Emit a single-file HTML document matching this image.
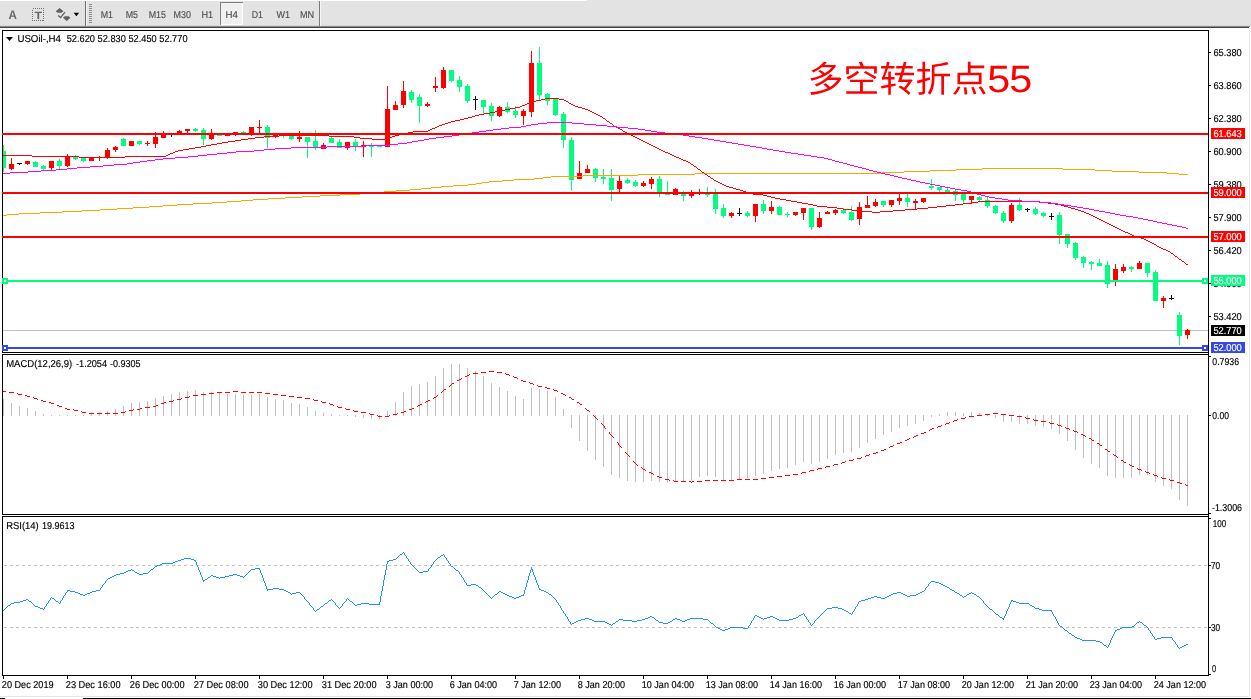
<!DOCTYPE html>
<html lang="zh"><head><meta charset="utf-8"><title>USOil H4</title>
<style>html,body{margin:0;padding:0;background:#fff;overflow:hidden}svg{display:block}text{font-family:"Liberation Sans","Noto Sans CJK SC",sans-serif;white-space:pre;text-rendering:geometricPrecision}</style>
</head><body>
<svg width="1251" height="699" viewBox="0 0 1251 699" shape-rendering="crispEdges">
<rect x="0" y="0" width="1251" height="699" fill="#fff"/>
<g id="toolbar">
<rect x="0" y="0" width="1251" height="26" fill="#e3e3e3"/>
<rect x="0" y="0" width="587" height="1" fill="#ffffff"/>
<rect x="0" y="25" width="1251" height="1" fill="#d8d8d8"/>
<rect x="0" y="26" width="1250" height="1" fill="#8c8c8c"/>
<rect x="0" y="27" width="1249" height="1" fill="#404040"/>
<text x="8.4" y="19" font-size="12.5" fill="#686868" textLength="8.4" lengthAdjust="spacingAndGlyphs" font-weight="bold">A</text>
<rect x="32.5" y="8.5" width="11" height="12" fill="none" stroke="#707070" stroke-width="1" stroke-dasharray="1 1"/>
<text x="34.4" y="18.8" font-size="10.6" fill="#686868" textLength="7.6" lengthAdjust="spacingAndGlyphs" font-weight="bold">T</text>
<g shape-rendering="geometricPrecision" fill="#606060">
<path d="M59.6 8 L63.4 11.3 L61.6 12.7 L57.6 12.7 L55.8 11.3 Z"/>
<path d="M63 17.7 L64.8 16.3 L68.6 16.3 L70.4 17.7 L66.7 21 Z"/>
<path d="M58.2 15.4 L60.6 17.6 L65 12.2" fill="none" stroke="#606060" stroke-width="1.3"/>
<path d="M73.6 12.8 L79.2 12.8 L76.4 16.2 Z" fill="#000"/>
</g>
<rect x="85" y="1" width="1" height="25" fill="#6e6e6e"/>
<rect x="86" y="1" width="1" height="25" fill="#f4f4f4"/>
<rect x="89" y="4" width="3" height="1" fill="#8c8c8c"/>
<rect x="89" y="6" width="3" height="1" fill="#8c8c8c"/>
<rect x="89" y="8" width="3" height="1" fill="#8c8c8c"/>
<rect x="89" y="10" width="3" height="1" fill="#8c8c8c"/>
<rect x="89" y="12" width="3" height="1" fill="#8c8c8c"/>
<rect x="89" y="14" width="3" height="1" fill="#8c8c8c"/>
<rect x="89" y="16" width="3" height="1" fill="#8c8c8c"/>
<rect x="89" y="18" width="3" height="1" fill="#8c8c8c"/>
<rect x="89" y="20" width="3" height="1" fill="#8c8c8c"/>
<rect x="89" y="22" width="3" height="1" fill="#8c8c8c"/>
<rect x="220" y="2" width="23" height="23" fill="#f0f0f0"/>
<rect x="220" y="2" width="23" height="1" fill="#808080"/>
<rect x="220" y="2" width="1" height="23" fill="#808080"/>
<rect x="221" y="24" width="22" height="1" fill="#fff"/>
<rect x="242" y="3" width="1" height="22" fill="#fff"/>
<text x="100.7" y="18" font-size="10" fill="#505050" textLength="12.3" lengthAdjust="spacingAndGlyphs" stroke="#505050" stroke-width="0.15">M1</text>
<text x="125.7" y="18" font-size="10" fill="#505050" textLength="12.3" lengthAdjust="spacingAndGlyphs" stroke="#505050" stroke-width="0.15">M5</text>
<text x="148.7" y="18" font-size="10" fill="#505050" textLength="17.3" lengthAdjust="spacingAndGlyphs" stroke="#505050" stroke-width="0.15">M15</text>
<text x="173.6" y="18" font-size="10" fill="#505050" textLength="17.4" lengthAdjust="spacingAndGlyphs" stroke="#505050" stroke-width="0.15">M30</text>
<text x="201.5" y="18" font-size="10" fill="#505050" textLength="11.7" lengthAdjust="spacingAndGlyphs" stroke="#505050" stroke-width="0.15">H1</text>
<text x="225.6" y="18" font-size="10" fill="#505050" textLength="12.4" lengthAdjust="spacingAndGlyphs" stroke="#505050" stroke-width="0.15">H4</text>
<text x="251.8" y="18" font-size="10" fill="#505050" textLength="11.2" lengthAdjust="spacingAndGlyphs" stroke="#505050" stroke-width="0.15">D1</text>
<text x="276.5" y="18" font-size="10" fill="#505050" textLength="13.5" lengthAdjust="spacingAndGlyphs" stroke="#505050" stroke-width="0.15">W1</text>
<text x="300" y="18" font-size="10" fill="#505050" textLength="14.2" lengthAdjust="spacingAndGlyphs" stroke="#505050" stroke-width="0.15">MN</text>
<rect x="319" y="1" width="1" height="25" fill="#7a7a7a"/>
<rect x="320" y="1" width="1" height="25" fill="#f6f6f6"/>
</g>
<rect x="1249" y="28" width="1" height="669" fill="#e6e6e6"/>
<rect x="0" y="696" width="1250" height="1" fill="#e4e4e4"/>
<rect x="0" y="698" width="5" height="1" fill="#000"/>
<rect x="83" y="698" width="1168" height="1" fill="#000"/>
<rect x="3" y="330" width="1205" height="1" fill="#c0c0c0"/>
<g id="candles">
<rect x="3" y="145" width="1" height="27" fill="#00ff80"/>
<rect x="3" y="151" width="3" height="17" fill="#00ff80"/>
<rect x="11" y="158" width="1" height="12" fill="#ff0000"/>
<rect x="9" y="164" width="5" height="5" fill="#ff0000"/>
<rect x="19" y="163" width="1" height="2" fill="#000"/>
<rect x="17" y="163" width="5" height="1" fill="#000"/>
<rect x="27" y="161" width="1" height="4" fill="#ff0000"/>
<rect x="25" y="161" width="5" height="3" fill="#ff0000"/>
<rect x="35" y="161" width="1" height="6" fill="#00ff80"/>
<rect x="33" y="162" width="5" height="5" fill="#00ff80"/>
<rect x="43" y="165" width="1" height="5" fill="#00ff80"/>
<rect x="41" y="166" width="5" height="3" fill="#00ff80"/>
<rect x="51" y="161" width="1" height="9" fill="#ff0000"/>
<rect x="49" y="161" width="5" height="7" fill="#ff0000"/>
<rect x="59" y="159" width="1" height="10" fill="#00ff80"/>
<rect x="57" y="161" width="5" height="5" fill="#00ff80"/>
<rect x="67" y="154" width="1" height="13" fill="#ff0000"/>
<rect x="65" y="156" width="5" height="10" fill="#ff0000"/>
<rect x="75" y="155" width="1" height="5" fill="#00ff80"/>
<rect x="73" y="157" width="5" height="2" fill="#00ff80"/>
<rect x="83" y="158" width="1" height="4" fill="#00ff80"/>
<rect x="81" y="158" width="5" height="3" fill="#00ff80"/>
<rect x="91" y="158" width="1" height="3" fill="#ff0000"/>
<rect x="89" y="158" width="5" height="3" fill="#ff0000"/>
<rect x="99" y="156" width="1" height="5" fill="#ff0000"/>
<rect x="97" y="157" width="5" height="1" fill="#ff0000"/>
<rect x="107" y="148" width="1" height="11" fill="#ff0000"/>
<rect x="105" y="150" width="5" height="7" fill="#ff0000"/>
<rect x="115" y="146" width="1" height="6" fill="#ff0000"/>
<rect x="113" y="147" width="5" height="3" fill="#ff0000"/>
<rect x="123" y="138" width="1" height="8" fill="#00ff80"/>
<rect x="121" y="139" width="5" height="7" fill="#00ff80"/>
<rect x="131" y="141" width="1" height="5" fill="#ff0000"/>
<rect x="129" y="141" width="5" height="5" fill="#ff0000"/>
<rect x="139" y="141" width="1" height="4" fill="#00ff80"/>
<rect x="137" y="141" width="5" height="3" fill="#00ff80"/>
<rect x="147" y="141" width="1" height="5" fill="#ff0000"/>
<rect x="145" y="143" width="5" height="1" fill="#ff0000"/>
<rect x="155" y="132" width="1" height="16" fill="#ff0000"/>
<rect x="153" y="137" width="5" height="7" fill="#ff0000"/>
<rect x="163" y="131" width="1" height="7" fill="#ff0000"/>
<rect x="161" y="133" width="5" height="5" fill="#ff0000"/>
<rect x="171" y="133" width="1" height="4" fill="#000"/>
<rect x="169" y="134" width="5" height="1" fill="#000"/>
<rect x="179" y="130" width="1" height="4" fill="#ff0000"/>
<rect x="177" y="131" width="5" height="3" fill="#ff0000"/>
<rect x="187" y="129" width="1" height="4" fill="#ff0000"/>
<rect x="185" y="129" width="5" height="2" fill="#ff0000"/>
<rect x="195" y="128" width="1" height="4" fill="#00ff80"/>
<rect x="193" y="129" width="5" height="2" fill="#00ff80"/>
<rect x="203" y="128" width="1" height="17" fill="#00ff80"/>
<rect x="201" y="130" width="5" height="9" fill="#00ff80"/>
<rect x="211" y="129" width="1" height="11" fill="#ff0000"/>
<rect x="209" y="134" width="5" height="5" fill="#ff0000"/>
<rect x="219" y="134" width="1" height="2" fill="#00ff80"/>
<rect x="217" y="135" width="5" height="1" fill="#00ff80"/>
<rect x="227" y="134" width="1" height="2" fill="#ff0000"/>
<rect x="225" y="135" width="5" height="1" fill="#ff0000"/>
<rect x="235" y="132" width="1" height="4" fill="#ff0000"/>
<rect x="233" y="132" width="5" height="3" fill="#ff0000"/>
<rect x="243" y="131" width="1" height="3" fill="#00ff80"/>
<rect x="241" y="132" width="5" height="1" fill="#00ff80"/>
<rect x="251" y="127" width="1" height="9" fill="#ff0000"/>
<rect x="249" y="127" width="5" height="8" fill="#ff0000"/>
<rect x="259" y="120" width="1" height="14" fill="#ff0000"/>
<rect x="257" y="127" width="5" height="1" fill="#ff0000"/>
<rect x="267" y="125" width="1" height="23" fill="#00ff80"/>
<rect x="265" y="127" width="5" height="11" fill="#00ff80"/>
<rect x="275" y="134" width="1" height="4" fill="#ff0000"/>
<rect x="273" y="134" width="5" height="3" fill="#ff0000"/>
<rect x="283" y="135" width="1" height="3" fill="#00ff80"/>
<rect x="281" y="135" width="5" height="1" fill="#00ff80"/>
<rect x="291" y="135" width="1" height="5" fill="#00ff80"/>
<rect x="289" y="135" width="5" height="4" fill="#00ff80"/>
<rect x="299" y="131" width="1" height="11" fill="#ff0000"/>
<rect x="297" y="137" width="5" height="2" fill="#ff0000"/>
<rect x="307" y="137" width="1" height="21" fill="#00ff80"/>
<rect x="305" y="137" width="5" height="5" fill="#00ff80"/>
<rect x="315" y="130" width="1" height="20" fill="#00ff80"/>
<rect x="313" y="141" width="5" height="6" fill="#00ff80"/>
<rect x="323" y="143" width="1" height="6" fill="#ff0000"/>
<rect x="321" y="145" width="5" height="4" fill="#ff0000"/>
<rect x="331" y="137" width="1" height="6" fill="#00ff80"/>
<rect x="329" y="138" width="5" height="5" fill="#00ff80"/>
<rect x="339" y="139" width="1" height="9" fill="#00ff80"/>
<rect x="337" y="142" width="5" height="6" fill="#00ff80"/>
<rect x="347" y="142" width="1" height="8" fill="#ff0000"/>
<rect x="345" y="142" width="5" height="6" fill="#ff0000"/>
<rect x="355" y="139" width="1" height="12" fill="#00ff80"/>
<rect x="353" y="142" width="5" height="4" fill="#00ff80"/>
<rect x="363" y="141" width="1" height="16" fill="#ff0000"/>
<rect x="361" y="145" width="5" height="1" fill="#ff0000"/>
<rect x="371" y="143" width="1" height="14" fill="#00ff80"/>
<rect x="369" y="146" width="5" height="1" fill="#00ff80"/>
<rect x="379" y="145" width="1" height="2" fill="#00ff80"/>
<rect x="377" y="146" width="5" height="1" fill="#00ff80"/>
<rect x="387" y="86" width="1" height="61" fill="#ff0000"/>
<rect x="385" y="109" width="5" height="38" fill="#ff0000"/>
<rect x="395" y="101" width="1" height="9" fill="#ff0000"/>
<rect x="393" y="105" width="5" height="5" fill="#ff0000"/>
<rect x="403" y="81" width="1" height="27" fill="#ff0000"/>
<rect x="401" y="91" width="5" height="14" fill="#ff0000"/>
<rect x="411" y="90" width="1" height="13" fill="#00ff80"/>
<rect x="409" y="92" width="5" height="8" fill="#00ff80"/>
<rect x="419" y="94" width="1" height="29" fill="#00ff80"/>
<rect x="417" y="97" width="5" height="9" fill="#00ff80"/>
<rect x="427" y="102" width="1" height="5" fill="#ff0000"/>
<rect x="425" y="104" width="5" height="2" fill="#ff0000"/>
<rect x="435" y="77" width="1" height="15" fill="#ff0000"/>
<rect x="433" y="86" width="5" height="2" fill="#ff0000"/>
<rect x="443" y="67" width="1" height="22" fill="#ff0000"/>
<rect x="441" y="70" width="5" height="18" fill="#ff0000"/>
<rect x="451" y="70" width="1" height="12" fill="#00ff80"/>
<rect x="449" y="70" width="5" height="11" fill="#00ff80"/>
<rect x="459" y="76" width="1" height="16" fill="#00ff80"/>
<rect x="457" y="80" width="5" height="7" fill="#00ff80"/>
<rect x="467" y="84" width="1" height="19" fill="#00ff80"/>
<rect x="465" y="86" width="5" height="15" fill="#00ff80"/>
<rect x="475" y="96" width="1" height="14" fill="#000"/>
<rect x="473" y="99" width="5" height="1" fill="#000"/>
<rect x="483" y="100" width="1" height="14" fill="#00ff80"/>
<rect x="481" y="100" width="5" height="7" fill="#00ff80"/>
<rect x="491" y="103" width="1" height="18" fill="#00ff80"/>
<rect x="489" y="106" width="5" height="10" fill="#00ff80"/>
<rect x="499" y="106" width="1" height="11" fill="#ff0000"/>
<rect x="497" y="107" width="5" height="9" fill="#ff0000"/>
<rect x="507" y="102" width="1" height="11" fill="#00ff80"/>
<rect x="505" y="107" width="5" height="5" fill="#00ff80"/>
<rect x="515" y="106" width="1" height="12" fill="#00ff80"/>
<rect x="513" y="111" width="5" height="4" fill="#00ff80"/>
<rect x="523" y="109" width="1" height="16" fill="#ff0000"/>
<rect x="521" y="111" width="5" height="5" fill="#ff0000"/>
<rect x="531" y="51" width="1" height="66" fill="#ff0000"/>
<rect x="529" y="63" width="5" height="49" fill="#ff0000"/>
<rect x="539" y="47" width="1" height="53" fill="#00ff80"/>
<rect x="537" y="63" width="5" height="32" fill="#00ff80"/>
<rect x="547" y="93" width="1" height="12" fill="#00ff80"/>
<rect x="545" y="94" width="5" height="7" fill="#00ff80"/>
<rect x="555" y="98" width="1" height="18" fill="#00ff80"/>
<rect x="553" y="99" width="5" height="16" fill="#00ff80"/>
<rect x="563" y="112" width="1" height="36" fill="#00ff80"/>
<rect x="561" y="114" width="5" height="26" fill="#00ff80"/>
<rect x="571" y="137" width="1" height="54" fill="#00ff80"/>
<rect x="569" y="140" width="5" height="40" fill="#00ff80"/>
<rect x="579" y="161" width="1" height="18" fill="#ff0000"/>
<rect x="577" y="173" width="5" height="6" fill="#ff0000"/>
<rect x="587" y="165" width="1" height="8" fill="#ff0000"/>
<rect x="585" y="169" width="5" height="4" fill="#ff0000"/>
<rect x="595" y="168" width="1" height="14" fill="#00ff80"/>
<rect x="593" y="169" width="5" height="9" fill="#00ff80"/>
<rect x="603" y="169" width="1" height="15" fill="#00ff80"/>
<rect x="601" y="177" width="5" height="2" fill="#00ff80"/>
<rect x="611" y="169" width="1" height="32" fill="#00ff80"/>
<rect x="609" y="178" width="5" height="12" fill="#00ff80"/>
<rect x="619" y="176" width="1" height="16" fill="#ff0000"/>
<rect x="617" y="181" width="5" height="8" fill="#ff0000"/>
<rect x="627" y="178" width="1" height="6" fill="#00ff80"/>
<rect x="625" y="180" width="5" height="3" fill="#00ff80"/>
<rect x="635" y="180" width="1" height="7" fill="#00ff80"/>
<rect x="633" y="182" width="5" height="4" fill="#00ff80"/>
<rect x="643" y="181" width="1" height="6" fill="#ff0000"/>
<rect x="641" y="183" width="5" height="3" fill="#ff0000"/>
<rect x="651" y="177" width="1" height="12" fill="#ff0000"/>
<rect x="649" y="179" width="5" height="5" fill="#ff0000"/>
<rect x="659" y="176" width="1" height="21" fill="#00ff80"/>
<rect x="657" y="179" width="5" height="13" fill="#00ff80"/>
<rect x="667" y="181" width="1" height="14" fill="#00ff80"/>
<rect x="665" y="192" width="5" height="3" fill="#00ff80"/>
<rect x="675" y="188" width="1" height="7" fill="#ff0000"/>
<rect x="673" y="189" width="5" height="6" fill="#ff0000"/>
<rect x="683" y="191" width="1" height="10" fill="#00ff80"/>
<rect x="681" y="194" width="5" height="2" fill="#00ff80"/>
<rect x="691" y="190" width="1" height="8" fill="#ff0000"/>
<rect x="689" y="193" width="5" height="3" fill="#ff0000"/>
<rect x="699" y="189" width="1" height="6" fill="#ff0000"/>
<rect x="697" y="192" width="5" height="1" fill="#ff0000"/>
<rect x="707" y="187" width="1" height="10" fill="#00ff80"/>
<rect x="705" y="194" width="5" height="1" fill="#00ff80"/>
<rect x="715" y="189" width="1" height="25" fill="#00ff80"/>
<rect x="713" y="194" width="5" height="15" fill="#00ff80"/>
<rect x="723" y="204" width="1" height="14" fill="#00ff80"/>
<rect x="721" y="208" width="5" height="8" fill="#00ff80"/>
<rect x="731" y="212" width="1" height="6" fill="#ff0000"/>
<rect x="729" y="213" width="5" height="3" fill="#ff0000"/>
<rect x="739" y="208" width="1" height="8" fill="#000"/>
<rect x="737" y="213" width="5" height="1" fill="#000"/>
<rect x="747" y="211" width="1" height="6" fill="#00ff80"/>
<rect x="745" y="213" width="5" height="3" fill="#00ff80"/>
<rect x="755" y="204" width="1" height="18" fill="#ff0000"/>
<rect x="753" y="204" width="5" height="12" fill="#ff0000"/>
<rect x="763" y="200" width="1" height="14" fill="#00ff80"/>
<rect x="761" y="204" width="5" height="7" fill="#00ff80"/>
<rect x="771" y="201" width="1" height="13" fill="#ff0000"/>
<rect x="769" y="207" width="5" height="4" fill="#ff0000"/>
<rect x="779" y="206" width="1" height="9" fill="#00ff80"/>
<rect x="777" y="207" width="5" height="8" fill="#00ff80"/>
<rect x="787" y="212" width="1" height="5" fill="#00ff80"/>
<rect x="785" y="214" width="5" height="1" fill="#00ff80"/>
<rect x="795" y="212" width="1" height="4" fill="#ff0000"/>
<rect x="793" y="212" width="5" height="3" fill="#ff0000"/>
<rect x="803" y="208" width="1" height="12" fill="#ff0000"/>
<rect x="801" y="208" width="5" height="5" fill="#ff0000"/>
<rect x="811" y="208" width="1" height="22" fill="#00ff80"/>
<rect x="809" y="208" width="5" height="19" fill="#00ff80"/>
<rect x="819" y="212" width="1" height="16" fill="#ff0000"/>
<rect x="817" y="218" width="5" height="9" fill="#ff0000"/>
<rect x="827" y="211" width="1" height="3" fill="#ff0000"/>
<rect x="825" y="212" width="5" height="2" fill="#ff0000"/>
<rect x="835" y="209" width="1" height="6" fill="#ff0000"/>
<rect x="833" y="210" width="5" height="3" fill="#ff0000"/>
<rect x="843" y="208" width="1" height="6" fill="#00ff80"/>
<rect x="841" y="210" width="5" height="3" fill="#00ff80"/>
<rect x="851" y="206" width="1" height="15" fill="#00ff80"/>
<rect x="849" y="212" width="5" height="8" fill="#00ff80"/>
<rect x="859" y="202" width="1" height="23" fill="#ff0000"/>
<rect x="857" y="207" width="5" height="12" fill="#ff0000"/>
<rect x="867" y="196" width="1" height="12" fill="#ff0000"/>
<rect x="865" y="205" width="5" height="3" fill="#ff0000"/>
<rect x="875" y="199" width="1" height="8" fill="#ff0000"/>
<rect x="873" y="202" width="5" height="4" fill="#ff0000"/>
<rect x="883" y="201" width="1" height="6" fill="#00ff80"/>
<rect x="881" y="201" width="5" height="4" fill="#00ff80"/>
<rect x="891" y="200" width="1" height="7" fill="#ff0000"/>
<rect x="889" y="200" width="5" height="5" fill="#ff0000"/>
<rect x="899" y="194" width="1" height="11" fill="#ff0000"/>
<rect x="897" y="198" width="5" height="3" fill="#ff0000"/>
<rect x="907" y="194" width="1" height="13" fill="#00ff80"/>
<rect x="905" y="198" width="5" height="4" fill="#00ff80"/>
<rect x="915" y="199" width="1" height="10" fill="#ff0000"/>
<rect x="913" y="201" width="5" height="2" fill="#ff0000"/>
<rect x="923" y="198" width="1" height="5" fill="#ff0000"/>
<rect x="921" y="198" width="5" height="4" fill="#ff0000"/>
<rect x="931" y="179" width="1" height="11" fill="#00ff80"/>
<rect x="929" y="186" width="5" height="2" fill="#00ff80"/>
<rect x="939" y="187" width="1" height="5" fill="#00ff80"/>
<rect x="937" y="187" width="5" height="3" fill="#00ff80"/>
<rect x="947" y="188" width="1" height="5" fill="#00ff80"/>
<rect x="945" y="190" width="5" height="3" fill="#00ff80"/>
<rect x="955" y="190" width="1" height="11" fill="#00ff80"/>
<rect x="953" y="191" width="5" height="4" fill="#00ff80"/>
<rect x="963" y="194" width="1" height="9" fill="#00ff80"/>
<rect x="961" y="194" width="5" height="6" fill="#00ff80"/>
<rect x="971" y="196" width="1" height="7" fill="#ff0000"/>
<rect x="969" y="196" width="5" height="4" fill="#ff0000"/>
<rect x="979" y="196" width="1" height="5" fill="#00ff80"/>
<rect x="977" y="197" width="5" height="3" fill="#00ff80"/>
<rect x="987" y="197" width="1" height="11" fill="#00ff80"/>
<rect x="985" y="200" width="5" height="6" fill="#00ff80"/>
<rect x="995" y="205" width="1" height="9" fill="#00ff80"/>
<rect x="993" y="206" width="5" height="7" fill="#00ff80"/>
<rect x="1003" y="211" width="1" height="12" fill="#00ff80"/>
<rect x="1001" y="213" width="5" height="8" fill="#00ff80"/>
<rect x="1011" y="203" width="1" height="20" fill="#ff0000"/>
<rect x="1009" y="205" width="5" height="16" fill="#ff0000"/>
<rect x="1019" y="198" width="1" height="13" fill="#00ff80"/>
<rect x="1017" y="205" width="5" height="5" fill="#00ff80"/>
<rect x="1027" y="208" width="1" height="4" fill="#000"/>
<rect x="1025" y="209" width="5" height="1" fill="#000"/>
<rect x="1035" y="207" width="1" height="8" fill="#00ff80"/>
<rect x="1033" y="209" width="5" height="5" fill="#00ff80"/>
<rect x="1043" y="212" width="1" height="5" fill="#00ff80"/>
<rect x="1041" y="213" width="5" height="3" fill="#00ff80"/>
<rect x="1051" y="213" width="1" height="7" fill="#000"/>
<rect x="1049" y="216" width="5" height="1" fill="#000"/>
<rect x="1059" y="212" width="1" height="32" fill="#00ff80"/>
<rect x="1057" y="215" width="5" height="20" fill="#00ff80"/>
<rect x="1067" y="234" width="1" height="14" fill="#00ff80"/>
<rect x="1065" y="234" width="5" height="10" fill="#00ff80"/>
<rect x="1075" y="242" width="1" height="18" fill="#00ff80"/>
<rect x="1073" y="243" width="5" height="15" fill="#00ff80"/>
<rect x="1083" y="256" width="1" height="12" fill="#00ff80"/>
<rect x="1081" y="257" width="5" height="6" fill="#00ff80"/>
<rect x="1091" y="261" width="1" height="9" fill="#00ff80"/>
<rect x="1089" y="262" width="5" height="2" fill="#00ff80"/>
<rect x="1099" y="259" width="1" height="7" fill="#00ff80"/>
<rect x="1097" y="263" width="5" height="3" fill="#00ff80"/>
<rect x="1107" y="261" width="1" height="27" fill="#00ff80"/>
<rect x="1105" y="265" width="5" height="19" fill="#00ff80"/>
<rect x="1115" y="264" width="1" height="22" fill="#ff0000"/>
<rect x="1113" y="269" width="5" height="11" fill="#ff0000"/>
<rect x="1123" y="264" width="1" height="9" fill="#ff0000"/>
<rect x="1121" y="267" width="5" height="4" fill="#ff0000"/>
<rect x="1131" y="266" width="1" height="6" fill="#00ff80"/>
<rect x="1129" y="267" width="5" height="2" fill="#00ff80"/>
<rect x="1139" y="261" width="1" height="8" fill="#ff0000"/>
<rect x="1137" y="263" width="5" height="6" fill="#ff0000"/>
<rect x="1147" y="263" width="1" height="14" fill="#00ff80"/>
<rect x="1145" y="263" width="5" height="10" fill="#00ff80"/>
<rect x="1155" y="270" width="1" height="31" fill="#00ff80"/>
<rect x="1153" y="272" width="5" height="29" fill="#00ff80"/>
<rect x="1163" y="296" width="1" height="12" fill="#ff0000"/>
<rect x="1161" y="298" width="5" height="3" fill="#ff0000"/>
<rect x="1171" y="295" width="1" height="5" fill="#000"/>
<rect x="1169" y="298" width="5" height="1" fill="#000"/>
<rect x="1179" y="312" width="1" height="33" fill="#00ff80"/>
<rect x="1177" y="315" width="5" height="21" fill="#00ff80"/>
<rect x="1187" y="329" width="1" height="10" fill="#ff0000"/>
<rect x="1185" y="330" width="5" height="5" fill="#ff0000"/>
</g>
<g id="ma">
<path d="M3 215h4v1h-4zM7 214h12v1h-12zM19 213h21v1h-21zM40 212h22v1h-22zM62 211h20v1h-20zM82 210h18v1h-18zM100 209h17v1h-17zM117 208h16v1h-16zM133 207h16v1h-16zM149 206h14v1h-14zM163 205h14v1h-14zM177 204h16v1h-16zM193 203h19v1h-19zM212 202h15v1h-15zM227 201h14v1h-14zM241 200h12v1h-12zM253 199h15v1h-15zM268 198h17v1h-17zM285 197h17v1h-17zM302 196h18v1h-18zM320 195h20v1h-20zM340 194h20v1h-20zM360 193h12v1h-12zM372 192h12v1h-12zM384 191h12v1h-12zM396 190h14v1h-14zM410 189h11v1h-11zM421 188h10v1h-10zM431 187h10v1h-10zM441 186h12v1h-12zM453 185h15v1h-15zM468 184h8v1h-8zM476 183h6v1h-6zM482 182h7v1h-7zM489 181h13v1h-13zM502 180h12v1h-12zM514 179h20v1h-20zM534 178h9v1h-9zM543 177h8v1h-8zM551 176h32v1h-32zM583 175h55v1h-55zM638 174h57v1h-57zM695 173h187v1h-187zM882 172h22v1h-22zM904 171h26v1h-26zM930 170h26v1h-26zM956 169h26v1h-26zM982 168h81v1h-81zM1063 169h32v1h-32zM1095 170h17v1h-17zM1112 171h27v1h-27zM1139 172h28v1h-28zM1167 173h12v1h-12zM1179 174h9v1h-9z" fill="#ffa500"/>
<path d="M3 155h29v1h-29zM32 156h47v1h-47zM79 157h46v1h-46zM125 156h41v1h-41zM166 155h2v1h-2zM168 154h2v1h-2zM170 153h3v1h-3zM173 152h2v1h-2zM175 151h3v1h-3zM178 150h5v1h-5zM183 149h6v1h-6zM189 148h6v1h-6zM195 147h6v1h-6zM201 146h5v1h-5zM206 145h5v1h-5zM211 144h6v1h-6zM217 143h5v1h-5zM222 142h6v1h-6zM228 141h7v1h-7zM235 140h6v1h-6zM241 139h7v1h-7zM248 138h7v1h-7zM255 137h9v1h-9zM264 136h15v1h-15zM279 135h50v1h-50zM329 136h25v1h-25zM354 137h6v1h-6zM360 138h12v1h-12zM372 139h13v1h-13zM385 138h4v1h-4zM389 137h3v1h-3zM392 136h3v1h-3zM395 135h4v1h-4zM399 134h4v1h-4zM403 133h5v1h-5zM408 132h5v1h-5zM413 131h15v1h-15zM428 130h2v1h-2zM430 129h2v1h-2zM432 128h3v1h-3zM435 127h2v1h-2zM437 126h2v1h-2zM439 125h3v1h-3zM442 124h3v1h-3zM445 123h3v1h-3zM448 122h3v1h-3zM451 121h4v1h-4zM455 120h5v1h-5zM460 119h4v1h-4zM464 118h4v1h-4zM468 117h4v1h-4zM472 116h3v1h-3zM475 115h4v1h-4zM479 114h5v1h-5zM484 113h6v1h-6zM490 112h5v1h-5zM495 111h5v1h-5zM500 110h5v1h-5zM505 109h5v1h-5zM510 108h5v1h-5zM515 107h5v1h-5zM520 106h2v1h-2zM522 105h3v1h-3zM525 104h2v1h-2zM527 103h3v1h-3zM530 102h3v1h-3zM533 101h3v1h-3zM536 100h5v1h-5zM541 99h4v1h-4zM545 98h14v1h-14zM559 99h5v1h-5zM564 100h2v1h-2zM566 101h2v1h-2zM568 102h1v1h-1zM569 103h2v1h-2zM571 104h2v1h-2zM573 105h2v1h-2zM575 106h3v1h-3zM578 107h4v1h-4zM582 108h3v1h-3zM585 109h3v1h-3zM588 110h2v1h-2zM590 111h2v1h-2zM592 112h2v1h-2zM594 113h2v1h-2zM596 114h2v1h-2zM598 115h2v1h-2zM600 116h2v1h-2zM602 117h1v1h-1zM603 118h2v1h-2zM605 119h1v1h-1zM606 120h1v1h-1zM607 121h2v1h-2zM609 122h1v1h-1zM610 123h2v1h-2zM612 124h1v1h-1zM613 125h1v1h-1zM614 126h2v1h-2zM616 127h2v1h-2zM618 128h2v1h-2zM620 129h2v1h-2zM622 130h1v1h-1zM623 131h2v1h-2zM625 132h2v1h-2zM627 133h2v1h-2zM629 134h2v1h-2zM631 135h2v1h-2zM633 136h2v1h-2zM635 137h2v1h-2zM637 138h2v1h-2zM639 139h2v1h-2zM641 140h2v1h-2zM643 141h2v1h-2zM645 142h2v1h-2zM647 143h2v1h-2zM649 144h2v1h-2zM651 145h2v1h-2zM653 146h2v1h-2zM655 147h2v1h-2zM657 148h2v1h-2zM659 149h2v1h-2zM661 150h2v1h-2zM663 151h2v1h-2zM665 152h3v1h-3zM668 153h2v1h-2zM670 154h2v1h-2zM672 155h2v1h-2zM674 156h2v1h-2zM676 157h3v1h-3zM679 158h2v1h-2zM681 159h2v1h-2zM683 160h3v1h-3zM686 161h2v1h-2zM688 162h2v1h-2zM690 163h1v1h-1zM691 164h2v1h-2zM693 165h1v1h-1zM694 166h2v1h-2zM696 167h1v1h-1zM697 168h1v1h-1zM698 169h2v1h-2zM700 170h1v1h-1zM701 171h1v1h-1zM702 172h2v1h-2zM704 173h1v1h-1zM705 174h2v1h-2zM707 175h1v1h-1zM708 176h2v1h-2zM710 177h1v1h-1zM711 178h2v1h-2zM713 179h1v1h-1zM714 180h2v1h-2zM716 181h2v1h-2zM718 182h2v1h-2zM720 183h2v1h-2zM722 184h2v1h-2zM724 185h2v1h-2zM726 186h3v1h-3zM729 187h4v1h-4zM733 188h3v1h-3zM736 189h4v1h-4zM740 190h3v1h-3zM743 191h3v1h-3zM746 192h4v1h-4zM750 193h3v1h-3zM753 194h10v1h-10zM763 195h4v1h-4zM767 196h4v1h-4zM771 197h4v1h-4zM775 198h5v1h-5zM780 199h6v1h-6zM786 200h5v1h-5zM791 201h6v1h-6zM797 202h5v1h-5zM802 203h6v1h-6zM808 204h5v1h-5zM813 205h4v1h-4zM817 206h10v1h-10zM827 207h10v1h-10zM837 208h6v1h-6zM843 209h9v1h-9zM852 210h9v1h-9zM861 211h11v1h-11zM872 212h8v1h-8zM880 211h13v1h-13zM893 210h12v1h-12zM905 209h12v1h-12zM917 208h11v1h-11zM928 207h9v1h-9zM937 206h9v1h-9zM946 205h9v1h-9zM955 204h8v1h-8zM963 203h9v1h-9zM972 202h6v1h-6zM978 201h62v1h-62zM1040 202h8v1h-8zM1048 203h7v1h-7zM1055 204h6v1h-6zM1061 205h3v1h-3zM1064 206h4v1h-4zM1068 207h3v1h-3zM1071 208h4v1h-4zM1075 209h3v1h-3zM1078 210h3v1h-3zM1081 211h3v1h-3zM1084 212h2v1h-2zM1086 213h3v1h-3zM1089 214h2v1h-2zM1091 215h2v1h-2zM1093 216h2v1h-2zM1095 217h2v1h-2zM1097 218h2v1h-2zM1099 219h2v1h-2zM1101 220h2v1h-2zM1103 221h2v1h-2zM1105 222h2v1h-2zM1107 223h2v1h-2zM1109 224h2v1h-2zM1111 225h2v1h-2zM1113 226h2v1h-2zM1115 227h2v1h-2zM1117 228h2v1h-2zM1119 229h2v1h-2zM1121 230h2v1h-2zM1123 231h2v1h-2zM1125 232h3v1h-3zM1128 233h2v1h-2zM1130 234h2v1h-2zM1132 235h2v1h-2zM1134 236h4v1h-4zM1138 237h3v1h-3zM1141 238h3v1h-3zM1144 239h2v1h-2zM1146 240h2v1h-2zM1148 241h2v1h-2zM1150 242h2v1h-2zM1152 243h2v1h-2zM1154 244h2v1h-2zM1156 245h1v1h-1zM1157 246h2v1h-2zM1159 247h2v1h-2zM1161 248h2v1h-2zM1163 249h3v1h-3zM1166 250h2v1h-2zM1168 251h2v1h-2zM1170 252h1v1h-1zM1171 253h2v1h-2zM1173 254h1v1h-1zM1174 255h1v1h-1zM1175 256h2v1h-2zM1177 257h1v1h-1zM1178 258h1v1h-1zM1179 259h2v1h-2zM1181 260h1v1h-1zM1182 261h2v1h-2zM1184 262h1v1h-1zM1185 263h1v1h-1zM1186 264h2v1h-2z" fill="#ff0000"/>
<path d="M3 173h7v1h-7zM10 172h18v1h-18zM28 171h13v1h-13zM41 170h15v1h-15zM56 169h11v1h-11zM67 168h10v1h-10zM77 167h13v1h-13zM90 166h13v1h-13zM103 165h11v1h-11zM114 164h13v1h-13zM127 163h6v1h-6zM133 162h7v1h-7zM140 161h7v1h-7zM147 160h8v1h-8zM155 159h8v1h-8zM163 158h12v1h-12zM175 157h13v1h-13zM188 156h10v1h-10zM198 155h9v1h-9zM207 154h10v1h-10zM217 153h10v1h-10zM227 152h9v1h-9zM236 151h18v1h-18zM254 150h10v1h-10zM264 149h11v1h-11zM275 148h16v1h-16zM291 147h36v1h-36zM327 146h39v1h-39zM366 145h24v1h-24zM390 144h8v1h-8zM398 143h9v1h-9zM407 142h5v1h-5zM412 141h6v1h-6zM418 140h6v1h-6zM424 139h5v1h-5zM429 138h7v1h-7zM436 137h8v1h-8zM444 136h8v1h-8zM452 135h7v1h-7zM459 134h7v1h-7zM466 133h6v1h-6zM472 132h7v1h-7zM479 131h7v1h-7zM486 130h7v1h-7zM493 129h8v1h-8zM501 128h8v1h-8zM509 127h12v1h-12zM521 126h5v1h-5zM526 125h5v1h-5zM531 124h7v1h-7zM538 123h9v1h-9zM547 122h25v1h-25zM572 123h12v1h-12zM584 124h12v1h-12zM596 125h11v1h-11zM607 126h10v1h-10zM617 127h11v1h-11zM628 128h10v1h-10zM638 129h7v1h-7zM645 130h6v1h-6zM651 131h6v1h-6zM657 132h8v1h-8zM665 133h10v1h-10zM675 134h8v1h-8zM683 135h6v1h-6zM689 136h6v1h-6zM695 137h7v1h-7zM702 138h6v1h-6zM708 139h6v1h-6zM714 140h6v1h-6zM720 141h6v1h-6zM726 142h6v1h-6zM732 143h6v1h-6zM738 144h6v1h-6zM744 145h6v1h-6zM750 146h6v1h-6zM756 147h6v1h-6zM762 148h5v1h-5zM767 149h6v1h-6zM773 150h6v1h-6zM779 151h6v1h-6zM785 152h6v1h-6zM791 153h7v1h-7zM798 154h6v1h-6zM804 155h7v1h-7zM811 156h6v1h-6zM817 157h7v1h-7zM824 158h4v1h-4zM828 159h4v1h-4zM832 160h3v1h-3zM835 161h4v1h-4zM839 162h4v1h-4zM843 163h4v1h-4zM847 164h3v1h-3zM850 165h4v1h-4zM854 166h4v1h-4zM858 167h4v1h-4zM862 168h4v1h-4zM866 169h3v1h-3zM869 170h4v1h-4zM873 171h4v1h-4zM877 172h4v1h-4zM881 173h4v1h-4zM885 174h5v1h-5zM890 175h4v1h-4zM894 176h4v1h-4zM898 177h4v1h-4zM902 178h5v1h-5zM907 179h4v1h-4zM911 180h5v1h-5zM916 181h4v1h-4zM920 182h5v1h-5zM925 183h5v1h-5zM930 184h5v1h-5zM935 185h5v1h-5zM940 186h5v1h-5zM945 187h5v1h-5zM950 188h5v1h-5zM955 189h6v1h-6zM961 190h6v1h-6zM967 191h4v1h-4zM971 192h3v1h-3zM974 193h3v1h-3zM977 194h4v1h-4zM981 195h4v1h-4zM985 196h4v1h-4zM989 197h6v1h-6zM995 198h7v1h-7zM1002 199h6v1h-6zM1008 200h14v1h-14zM1022 201h17v1h-17zM1039 202h12v1h-12zM1051 203h7v1h-7zM1058 204h6v1h-6zM1064 205h7v1h-7zM1071 206h6v1h-6zM1077 207h6v1h-6zM1083 208h6v1h-6zM1089 209h5v1h-5zM1094 210h5v1h-5zM1099 211h6v1h-6zM1105 212h5v1h-5zM1110 213h5v1h-5zM1115 214h5v1h-5zM1120 215h6v1h-6zM1126 216h7v1h-7zM1133 217h5v1h-5zM1138 218h5v1h-5zM1143 219h5v1h-5zM1148 220h5v1h-5zM1153 221h4v1h-4zM1157 222h5v1h-5zM1162 223h5v1h-5zM1167 224h5v1h-5zM1172 225h5v1h-5zM1177 226h5v1h-5zM1182 227h4v1h-4zM1186 228h2v1h-2z" fill="#ff00ff"/>
</g>
<g id="frames" fill="#000">
<rect x="2" y="30" width="1207" height="1" fill="#000"/>
<rect x="2" y="352" width="1207" height="1" fill="#000"/>
<rect x="2" y="354" width="1207" height="1" fill="#000"/>
<rect x="2" y="514" width="1207" height="1" fill="#000"/>
<rect x="2" y="516" width="1207" height="1" fill="#000"/>
<rect x="2" y="675" width="1207" height="1" fill="#000"/>
<rect x="2" y="30" width="1" height="646" fill="#000"/>
<rect x="1208" y="30" width="1" height="646" fill="#000"/>
<rect x="2" y="353" width="1" height="1" fill="#fff"/>
<rect x="2" y="515" width="1" height="1" fill="#fff"/>
</g>
<rect x="2" y="133" width="1206" height="2" fill="#ff0000"/>
<rect x="2" y="192" width="1206" height="2" fill="#ff0000"/>
<rect x="2" y="236" width="1206" height="2" fill="#ff0000"/>
<rect x="2" y="280" width="1206" height="2" fill="#00ff80"/>
<rect x="2" y="347" width="1206" height="2" fill="#3547e4"/>
<rect x="2" y="278" width="6" height="6" fill="#00ff80"/>
<rect x="4" y="280" width="2" height="2" fill="#fff"/>
<rect x="1202" y="278" width="6" height="6" fill="#00ff80"/>
<rect x="1204" y="280" width="2" height="2" fill="#fff"/>
<rect x="2" y="345" width="6" height="6" fill="#3547e4"/>
<rect x="4" y="347" width="2" height="2" fill="#fff"/>
<rect x="1202" y="345" width="6" height="6" fill="#3547e4"/>
<rect x="1204" y="347" width="2" height="2" fill="#fff"/>
<g id="macd">
<rect x="3" y="399" width="1" height="17" fill="#c0c0c0"/>
<rect x="11" y="403" width="1" height="13" fill="#c0c0c0"/>
<rect x="19" y="406" width="1" height="10" fill="#c0c0c0"/>
<rect x="27" y="408" width="1" height="8" fill="#c0c0c0"/>
<rect x="35" y="411" width="1" height="5" fill="#c0c0c0"/>
<rect x="43" y="414" width="1" height="2" fill="#c0c0c0"/>
<rect x="51" y="415" width="1" height="1" fill="#c0c0c0"/>
<rect x="59" y="415" width="1" height="1" fill="#c0c0c0"/>
<rect x="67" y="415" width="1" height="1" fill="#c0c0c0"/>
<rect x="75" y="415" width="1" height="1" fill="#c0c0c0"/>
<rect x="83" y="415" width="1" height="1" fill="#c0c0c0"/>
<rect x="91" y="414" width="1" height="2" fill="#c0c0c0"/>
<rect x="99" y="413" width="1" height="3" fill="#c0c0c0"/>
<rect x="107" y="411" width="1" height="5" fill="#c0c0c0"/>
<rect x="115" y="409" width="1" height="7" fill="#c0c0c0"/>
<rect x="123" y="406" width="1" height="10" fill="#c0c0c0"/>
<rect x="131" y="403" width="1" height="13" fill="#c0c0c0"/>
<rect x="139" y="402" width="1" height="14" fill="#c0c0c0"/>
<rect x="147" y="401" width="1" height="15" fill="#c0c0c0"/>
<rect x="155" y="398" width="1" height="18" fill="#c0c0c0"/>
<rect x="163" y="396" width="1" height="20" fill="#c0c0c0"/>
<rect x="171" y="394" width="1" height="22" fill="#c0c0c0"/>
<rect x="179" y="392" width="1" height="24" fill="#c0c0c0"/>
<rect x="187" y="391" width="1" height="25" fill="#c0c0c0"/>
<rect x="195" y="390" width="1" height="26" fill="#c0c0c0"/>
<rect x="203" y="392" width="1" height="24" fill="#c0c0c0"/>
<rect x="211" y="392" width="1" height="24" fill="#c0c0c0"/>
<rect x="219" y="393" width="1" height="23" fill="#c0c0c0"/>
<rect x="227" y="394" width="1" height="22" fill="#c0c0c0"/>
<rect x="235" y="394" width="1" height="22" fill="#c0c0c0"/>
<rect x="243" y="395" width="1" height="21" fill="#c0c0c0"/>
<rect x="251" y="395" width="1" height="21" fill="#c0c0c0"/>
<rect x="259" y="394" width="1" height="22" fill="#c0c0c0"/>
<rect x="267" y="397" width="1" height="19" fill="#c0c0c0"/>
<rect x="275" y="399" width="1" height="17" fill="#c0c0c0"/>
<rect x="283" y="400" width="1" height="16" fill="#c0c0c0"/>
<rect x="291" y="403" width="1" height="13" fill="#c0c0c0"/>
<rect x="299" y="404" width="1" height="12" fill="#c0c0c0"/>
<rect x="307" y="407" width="1" height="9" fill="#c0c0c0"/>
<rect x="315" y="411" width="1" height="5" fill="#c0c0c0"/>
<rect x="323" y="413" width="1" height="3" fill="#c0c0c0"/>
<rect x="331" y="414" width="1" height="2" fill="#c0c0c0"/>
<rect x="339" y="415" width="1" height="1" fill="#c0c0c0"/>
<rect x="347" y="415" width="1" height="1" fill="#c0c0c0"/>
<rect x="355" y="415" width="1" height="2" fill="#c0c0c0"/>
<rect x="363" y="415" width="1" height="3" fill="#c0c0c0"/>
<rect x="371" y="415" width="1" height="4" fill="#c0c0c0"/>
<rect x="379" y="415" width="1" height="4" fill="#c0c0c0"/>
<rect x="387" y="411" width="1" height="5" fill="#c0c0c0"/>
<rect x="395" y="402" width="1" height="14" fill="#c0c0c0"/>
<rect x="403" y="392" width="1" height="24" fill="#c0c0c0"/>
<rect x="411" y="386" width="1" height="30" fill="#c0c0c0"/>
<rect x="419" y="384" width="1" height="32" fill="#c0c0c0"/>
<rect x="427" y="382" width="1" height="34" fill="#c0c0c0"/>
<rect x="435" y="376" width="1" height="40" fill="#c0c0c0"/>
<rect x="443" y="368" width="1" height="48" fill="#c0c0c0"/>
<rect x="451" y="364" width="1" height="52" fill="#c0c0c0"/>
<rect x="459" y="364" width="1" height="52" fill="#c0c0c0"/>
<rect x="467" y="368" width="1" height="48" fill="#c0c0c0"/>
<rect x="475" y="371" width="1" height="45" fill="#c0c0c0"/>
<rect x="483" y="376" width="1" height="40" fill="#c0c0c0"/>
<rect x="491" y="383" width="1" height="33" fill="#c0c0c0"/>
<rect x="499" y="387" width="1" height="29" fill="#c0c0c0"/>
<rect x="507" y="391" width="1" height="25" fill="#c0c0c0"/>
<rect x="515" y="396" width="1" height="20" fill="#c0c0c0"/>
<rect x="523" y="399" width="1" height="17" fill="#c0c0c0"/>
<rect x="531" y="388" width="1" height="28" fill="#c0c0c0"/>
<rect x="539" y="389" width="1" height="27" fill="#c0c0c0"/>
<rect x="547" y="391" width="1" height="25" fill="#c0c0c0"/>
<rect x="555" y="397" width="1" height="19" fill="#c0c0c0"/>
<rect x="563" y="409" width="1" height="7" fill="#c0c0c0"/>
<rect x="571" y="415" width="1" height="13" fill="#c0c0c0"/>
<rect x="579" y="415" width="1" height="26" fill="#c0c0c0"/>
<rect x="587" y="415" width="1" height="36" fill="#c0c0c0"/>
<rect x="595" y="415" width="1" height="45" fill="#c0c0c0"/>
<rect x="603" y="415" width="1" height="52" fill="#c0c0c0"/>
<rect x="611" y="415" width="1" height="60" fill="#c0c0c0"/>
<rect x="619" y="415" width="1" height="63" fill="#c0c0c0"/>
<rect x="627" y="415" width="1" height="66" fill="#c0c0c0"/>
<rect x="635" y="415" width="1" height="67" fill="#c0c0c0"/>
<rect x="643" y="415" width="1" height="67" fill="#c0c0c0"/>
<rect x="651" y="415" width="1" height="66" fill="#c0c0c0"/>
<rect x="659" y="415" width="1" height="67" fill="#c0c0c0"/>
<rect x="667" y="415" width="1" height="68" fill="#c0c0c0"/>
<rect x="675" y="415" width="1" height="66" fill="#c0c0c0"/>
<rect x="683" y="415" width="1" height="66" fill="#c0c0c0"/>
<rect x="691" y="415" width="1" height="65" fill="#c0c0c0"/>
<rect x="699" y="415" width="1" height="62" fill="#c0c0c0"/>
<rect x="707" y="415" width="1" height="61" fill="#c0c0c0"/>
<rect x="715" y="415" width="1" height="62" fill="#c0c0c0"/>
<rect x="723" y="415" width="1" height="65" fill="#c0c0c0"/>
<rect x="731" y="415" width="1" height="65" fill="#c0c0c0"/>
<rect x="739" y="415" width="1" height="64" fill="#c0c0c0"/>
<rect x="747" y="415" width="1" height="63" fill="#c0c0c0"/>
<rect x="755" y="415" width="1" height="61" fill="#c0c0c0"/>
<rect x="763" y="415" width="1" height="59" fill="#c0c0c0"/>
<rect x="771" y="415" width="1" height="56" fill="#c0c0c0"/>
<rect x="779" y="415" width="1" height="54" fill="#c0c0c0"/>
<rect x="787" y="415" width="1" height="53" fill="#c0c0c0"/>
<rect x="795" y="415" width="1" height="50" fill="#c0c0c0"/>
<rect x="803" y="415" width="1" height="47" fill="#c0c0c0"/>
<rect x="811" y="415" width="1" height="49" fill="#c0c0c0"/>
<rect x="819" y="415" width="1" height="47" fill="#c0c0c0"/>
<rect x="827" y="415" width="1" height="44" fill="#c0c0c0"/>
<rect x="835" y="415" width="1" height="40" fill="#c0c0c0"/>
<rect x="843" y="415" width="1" height="38" fill="#c0c0c0"/>
<rect x="851" y="415" width="1" height="37" fill="#c0c0c0"/>
<rect x="859" y="415" width="1" height="33" fill="#c0c0c0"/>
<rect x="867" y="415" width="1" height="28" fill="#c0c0c0"/>
<rect x="875" y="415" width="1" height="24" fill="#c0c0c0"/>
<rect x="883" y="415" width="1" height="20" fill="#c0c0c0"/>
<rect x="891" y="415" width="1" height="17" fill="#c0c0c0"/>
<rect x="899" y="415" width="1" height="13" fill="#c0c0c0"/>
<rect x="907" y="415" width="1" height="11" fill="#c0c0c0"/>
<rect x="915" y="415" width="1" height="9" fill="#c0c0c0"/>
<rect x="923" y="415" width="1" height="6" fill="#c0c0c0"/>
<rect x="931" y="415" width="1" height="2" fill="#c0c0c0"/>
<rect x="939" y="414" width="1" height="2" fill="#c0c0c0"/>
<rect x="947" y="412" width="1" height="4" fill="#c0c0c0"/>
<rect x="955" y="412" width="1" height="4" fill="#c0c0c0"/>
<rect x="963" y="413" width="1" height="3" fill="#c0c0c0"/>
<rect x="971" y="412" width="1" height="4" fill="#c0c0c0"/>
<rect x="979" y="413" width="1" height="3" fill="#c0c0c0"/>
<rect x="987" y="414" width="1" height="2" fill="#c0c0c0"/>
<rect x="995" y="415" width="1" height="3" fill="#c0c0c0"/>
<rect x="1003" y="415" width="1" height="7" fill="#c0c0c0"/>
<rect x="1011" y="415" width="1" height="7" fill="#c0c0c0"/>
<rect x="1019" y="415" width="1" height="9" fill="#c0c0c0"/>
<rect x="1027" y="415" width="1" height="9" fill="#c0c0c0"/>
<rect x="1035" y="415" width="1" height="11" fill="#c0c0c0"/>
<rect x="1043" y="415" width="1" height="12" fill="#c0c0c0"/>
<rect x="1051" y="415" width="1" height="14" fill="#c0c0c0"/>
<rect x="1059" y="415" width="1" height="19" fill="#c0c0c0"/>
<rect x="1067" y="415" width="1" height="26" fill="#c0c0c0"/>
<rect x="1075" y="415" width="1" height="35" fill="#c0c0c0"/>
<rect x="1083" y="415" width="1" height="43" fill="#c0c0c0"/>
<rect x="1091" y="415" width="1" height="49" fill="#c0c0c0"/>
<rect x="1099" y="415" width="1" height="53" fill="#c0c0c0"/>
<rect x="1107" y="415" width="1" height="61" fill="#c0c0c0"/>
<rect x="1115" y="415" width="1" height="63" fill="#c0c0c0"/>
<rect x="1123" y="415" width="1" height="63" fill="#c0c0c0"/>
<rect x="1131" y="415" width="1" height="63" fill="#c0c0c0"/>
<rect x="1139" y="415" width="1" height="60" fill="#c0c0c0"/>
<rect x="1147" y="415" width="1" height="60" fill="#c0c0c0"/>
<rect x="1155" y="415" width="1" height="67" fill="#c0c0c0"/>
<rect x="1163" y="415" width="1" height="71" fill="#c0c0c0"/>
<rect x="1171" y="415" width="1" height="74" fill="#c0c0c0"/>
<rect x="1179" y="415" width="1" height="85" fill="#c0c0c0"/>
<rect x="1187" y="415" width="1" height="91" fill="#c0c0c0"/>
<path d="M3 391h3v1h-3zM9 392h5v1h-5zM17 393h1v1h-1zM18 394h4v1h-4zM25 395h2v1h-2zM27 396h3v1h-3zM33 397h1v1h-1zM34 398h3v1h-3zM37 399h1v1h-1zM41 400h2v1h-2zM43 401h3v1h-3zM49 402h2v1h-2zM51 403h3v1h-3zM57 405h2v1h-2zM59 406h3v1h-3zM65 408h2v1h-2zM67 409h3v1h-3zM73 409h1v1h-1zM74 410h4v1h-4zM81 411h1v1h-1zM82 412h4v1h-4zM89 413h5v1h-5zM97 413h5v1h-5zM105 413h5v1h-5zM113 413h5v1h-5zM121 412h4v1h-4zM125 411h1v1h-1zM129 410h4v1h-4zM133 409h1v1h-1zM137 409h3v1h-3zM140 408h2v1h-2zM145 407h5v1h-5zM153 406h3v1h-3zM156 405h2v1h-2zM161 403h3v1h-3zM164 402h2v1h-2zM169 401h4v1h-4zM173 400h1v1h-1zM177 399h4v1h-4zM181 398h1v1h-1zM185 397h4v1h-4zM189 396h1v1h-1zM193 395h5v1h-5zM201 394h5v1h-5zM209 393h5v1h-5zM217 392h5v1h-5zM225 392h5v1h-5zM233 391h5v1h-5zM241 392h5v1h-5zM249 392h5v1h-5zM257 392h5v1h-5zM265 393h5v1h-5zM273 394h5v1h-5zM281 395h5v1h-5zM289 396h5v1h-5zM297 397h5v1h-5zM305 398h5v1h-5zM313 399h1v1h-1zM314 400h4v1h-4zM321 401h1v1h-1zM322 402h4v1h-4zM329 403h1v1h-1zM330 404h3v1h-3zM333 405h1v1h-1zM337 406h1v1h-1zM338 407h4v1h-4zM345 408h1v1h-1zM346 409h4v1h-4zM353 410h1v1h-1zM354 411h4v1h-4zM361 412h5v1h-5zM369 413h1v1h-1zM370 414h4v1h-4zM377 415h1v1h-1zM378 416h4v1h-4zM385 416h4v1h-4zM389 415h1v1h-1zM393 414h4v1h-4zM397 413h1v1h-1zM401 412h3v1h-3zM404 411h2v1h-2zM409 409h3v1h-3zM412 408h2v1h-2zM417 406h1v1h-1zM418 405h2v1h-2zM420 404h2v1h-2zM425 402h1v1h-1zM426 401h2v1h-2zM428 400h2v1h-2zM433 398h1v1h-1zM434 397h2v1h-2zM436 396h1v1h-1zM437 395h1v1h-1zM441 392h1v1h-1zM442 391h1v1h-1zM443 390h1v1h-1zM444 389h2v1h-2zM449 386h1v1h-1zM450 385h1v1h-1zM451 384h1v1h-1zM452 383h2v1h-2zM457 380h2v1h-2zM459 379h2v1h-2zM461 378h1v1h-1zM465 376h2v1h-2zM467 375h2v1h-2zM469 374h1v1h-1zM473 373h5v1h-5zM481 372h5v1h-5zM489 371h5v1h-5zM497 372h5v1h-5zM505 373h1v1h-1zM506 374h3v1h-3zM509 375h1v1h-1zM513 376h1v1h-1zM514 377h3v1h-3zM517 378h1v1h-1zM521 380h2v1h-2zM523 381h3v1h-3zM529 382h1v1h-1zM530 383h3v1h-3zM533 384h1v1h-1zM537 385h1v1h-1zM538 386h4v1h-4zM545 387h2v1h-2zM547 388h3v1h-3zM553 389h1v1h-1zM554 390h3v1h-3zM557 391h1v1h-1zM561 393h2v1h-2zM563 394h2v1h-2zM565 395h1v1h-1zM569 397h2v1h-2zM571 398h1v1h-1zM572 399h2v1h-2zM577 402h2v1h-2zM579 403h1v1h-1zM580 404h2v1h-2zM585 408h1v1h-1zM586 409h1v1h-1zM587 410h2v1h-2zM589 411h1v1h-1zM593 415h1v1h-1zM594 416h1v1h-1zM595 417h1v1h-1zM596 418h1v1h-1zM597 419h1v1h-1zM601 423h1v1h-1zM602 424h1v1h-1zM603 425h1v1h-1zM604 426h1v2h-1zM605 428h1v1h-1zM609 432h1v2h-1zM610 434h1v1h-1zM611 435h1v1h-1zM612 436h1v1h-1zM613 437h1v1h-1zM617 442h1v1h-1zM618 443h1v2h-1zM619 445h1v1h-1zM620 446h1v1h-1zM621 447h1v1h-1zM625 452h1v1h-1zM626 453h1v1h-1zM627 454h1v1h-1zM628 455h1v1h-1zM629 456h1v1h-1zM633 461h1v1h-1zM634 462h1v1h-1zM635 463h1v1h-1zM636 464h1v1h-1zM637 465h1v1h-1zM641 467h1v1h-1zM642 468h1v1h-1zM643 469h2v1h-2zM645 470h1v1h-1zM649 472h2v1h-2zM651 473h2v1h-2zM653 474h1v1h-1zM657 476h2v1h-2zM659 477h3v1h-3zM665 479h4v1h-4zM669 480h1v1h-1zM673 480h1v1h-1zM674 481h4v1h-4zM681 481h5v1h-5zM689 481h2v1h-2zM691 482h1v1h-1zM692 481h2v1h-2zM697 481h5v1h-5zM705 480h5v1h-5zM713 480h5v1h-5zM721 480h5v1h-5zM729 480h5v1h-5zM737 479h5v1h-5zM745 479h5v1h-5zM753 479h5v1h-5zM761 478h5v1h-5zM769 477h5v1h-5zM777 476h5v1h-5zM785 475h5v1h-5zM793 474h5v1h-5zM801 473h1v1h-1zM802 472h4v1h-4zM809 471h1v1h-1zM810 470h4v1h-4zM817 469h1v1h-1zM818 468h4v1h-4zM825 467h1v1h-1zM826 466h4v1h-4zM833 465h1v1h-1zM834 464h4v1h-4zM841 463h1v1h-1zM842 462h3v1h-3zM845 461h1v1h-1zM849 460h4v1h-4zM853 459h1v1h-1zM857 458h4v1h-4zM861 457h1v1h-1zM865 456h1v1h-1zM866 455h3v1h-3zM869 454h1v1h-1zM873 453h3v1h-3zM876 452h2v1h-2zM881 450h3v1h-3zM884 449h2v1h-2zM889 447h1v1h-1zM890 446h3v1h-3zM893 445h1v1h-1zM897 443h3v1h-3zM900 442h2v1h-2zM905 440h2v1h-2zM907 439h2v1h-2zM909 438h1v1h-1zM913 437h1v1h-1zM914 436h2v1h-2zM916 435h2v1h-2zM921 433h3v1h-3zM924 432h2v1h-2zM929 430h1v1h-1zM930 429h2v1h-2zM932 428h2v1h-2zM937 427h1v1h-1zM938 426h3v1h-3zM941 425h1v1h-1zM945 424h1v1h-1zM946 423h3v1h-3zM949 422h1v1h-1zM953 421h1v1h-1zM954 420h3v1h-3zM957 419h1v1h-1zM961 418h4v1h-4zM965 417h1v1h-1zM969 416h5v1h-5zM977 415h5v1h-5zM985 414h5v1h-5zM993 413h5v1h-5zM1001 414h5v1h-5zM1009 415h5v1h-5zM1017 416h5v1h-5zM1025 417h1v1h-1zM1026 418h4v1h-4zM1033 419h1v1h-1zM1034 420h4v1h-4zM1041 421h5v1h-5zM1049 422h1v1h-1zM1050 423h4v1h-4zM1057 424h1v1h-1zM1058 425h3v1h-3zM1061 426h1v1h-1zM1065 427h1v1h-1zM1066 428h3v1h-3zM1069 429h1v1h-1zM1073 430h1v1h-1zM1074 431h3v1h-3zM1077 432h1v1h-1zM1081 434h2v1h-2zM1083 435h2v1h-2zM1085 436h1v1h-1zM1089 438h2v1h-2zM1091 439h1v1h-1zM1092 440h2v1h-2zM1097 443h2v1h-2zM1099 444h1v1h-1zM1100 445h2v1h-2zM1105 449h2v1h-2zM1107 450h1v1h-1zM1108 451h2v1h-2zM1113 454h1v1h-1zM1114 455h2v1h-2zM1116 456h1v1h-1zM1117 457h1v1h-1zM1121 460h2v1h-2zM1123 461h1v1h-1zM1124 462h2v1h-2zM1129 464h1v1h-1zM1130 465h2v1h-2zM1132 466h2v1h-2zM1137 468h1v1h-1zM1138 469h3v1h-3zM1141 470h1v1h-1zM1145 471h1v1h-1zM1146 472h3v1h-3zM1149 473h1v1h-1zM1153 474h1v1h-1zM1154 475h3v1h-3zM1157 476h1v1h-1zM1161 477h1v1h-1zM1162 478h4v1h-4zM1169 479h1v1h-1zM1170 480h4v1h-4zM1177 482h3v1h-3zM1180 483h2v1h-2zM1185 484h1v1h-1zM1186 485h2v1h-2z" fill="#ff0000"/>
</g>
<g id="rsi">
<line x1="4" y1="565.5" x2="1208" y2="565.5" stroke="#c0c0c0" stroke-width="1" stroke-dasharray="3 3"/>
<line x1="4" y1="627.5" x2="1208" y2="627.5" stroke="#c0c0c0" stroke-width="1" stroke-dasharray="3 3"/>
<path d="M3 610h1v1h-1zM4 609h1v1h-1zM5 608h1v1h-1zM6 607h1v1h-1zM7 606h1v1h-1zM8 605h2v1h-2zM10 604h1v1h-1zM11 603h3v1h-3zM14 602h6v1h-6zM20 601h3v1h-3zM23 600h3v1h-3zM26 599h2v1h-2zM28 600h1v1h-1zM29 601h2v1h-2zM31 602h1v1h-1zM32 603h1v1h-1zM33 604h1v1h-1zM34 605h1v1h-1zM35 606h3v1h-3zM38 607h2v1h-2zM40 608h3v1h-3zM43 609h1v1h-1zM44 607h1v2h-1zM45 606h1v1h-1zM46 604h1v2h-1zM47 603h1v1h-1zM48 601h1v2h-1zM49 600h1v1h-1zM50 598h1v2h-1zM51 597h1v1h-1zM52 598h2v1h-2zM54 599h1v1h-1zM55 600h1v1h-1zM56 601h2v1h-2zM58 602h1v1h-1zM59 603h1v1h-1zM60 601h1v2h-1zM61 600h1v1h-1zM62 598h1v2h-1zM63 596h1v2h-1zM64 595h1v1h-1zM65 593h1v2h-1zM66 592h1v1h-1zM67 590h1v2h-1zM68 590h2v1h-2zM70 591h5v1h-5zM75 592h3v1h-3zM78 593h2v1h-2zM80 594h3v1h-3zM83 595h2v1h-2zM85 594h2v1h-2zM87 593h3v1h-3zM90 592h2v1h-2zM92 591h4v1h-4zM96 590h4v1h-4zM100 588h1v2h-1zM101 587h1v1h-1zM102 585h1v2h-1zM103 584h1v1h-1zM104 583h1v1h-1zM105 581h1v2h-1zM106 580h1v1h-1zM107 579h1v1h-1zM108 578h2v1h-2zM110 577h2v1h-2zM112 576h2v1h-2zM114 575h2v1h-2zM116 574h4v1h-4zM120 573h4v1h-4zM124 572h2v1h-2zM126 571h2v1h-2zM128 570h3v1h-3zM131 569h1v1h-1zM132 570h2v1h-2zM134 571h1v1h-1zM135 572h2v1h-2zM137 573h2v1h-2zM139 574h4v1h-4zM143 573h5v1h-5zM148 572h1v1h-1zM149 571h1v1h-1zM150 570h1v1h-1zM151 569h2v1h-2zM153 568h1v1h-1zM154 567h1v1h-1zM155 566h2v1h-2zM157 565h3v1h-3zM160 564h2v1h-2zM162 563h11v1h-11zM173 562h2v1h-2zM175 561h3v1h-3zM178 560h3v1h-3zM181 559h3v1h-3zM184 558h7v1h-7zM191 559h3v1h-3zM194 560h1v1h-1zM195 560h1v2h-1zM196 562h1v3h-1zM197 565h1v2h-1zM198 567h1v3h-1zM199 570h1v2h-1zM200 572h1v3h-1zM201 575h1v2h-1zM202 577h1v3h-1zM203 580h1v2h-1zM204 580h1v1h-1zM205 579h2v1h-2zM207 578h1v1h-1zM208 577h2v1h-2zM210 576h1v1h-1zM211 575h2v1h-2zM213 576h3v1h-3zM216 577h3v1h-3zM219 578h1v1h-1zM220 577h5v1h-5zM225 576h4v1h-4zM229 575h4v1h-4zM233 574h4v1h-4zM237 575h3v1h-3zM240 576h3v1h-3zM243 577h1v1h-1zM244 576h1v1h-1zM245 575h1v1h-1zM246 574h1v1h-1zM247 573h1v1h-1zM248 572h1v1h-1zM249 571h1v1h-1zM250 570h1v1h-1zM251 569h4v1h-4zM255 568h4v1h-4zM259 568h1v2h-1zM260 570h1v3h-1zM261 573h1v2h-1zM262 575h1v3h-1zM263 578h1v3h-1zM264 581h1v2h-1zM265 583h1v3h-1zM266 586h1v3h-1zM267 589h1v2h-1zM268 589h5v1h-5zM273 588h6v1h-6zM279 589h5v1h-5zM284 590h2v1h-2zM286 591h2v1h-2zM288 592h2v1h-2zM290 593h1v1h-1zM291 594h1v1h-1zM292 593h4v1h-4zM296 592h4v1h-4zM300 593h1v1h-1zM301 594h1v1h-1zM302 595h1v1h-1zM303 596h1v1h-1zM304 597h1v2h-1zM305 599h1v1h-1zM306 600h1v1h-1zM307 601h1v1h-1zM308 602h1v1h-1zM309 603h1v2h-1zM310 605h1v1h-1zM311 606h1v1h-1zM312 607h1v1h-1zM313 608h1v2h-1zM314 610h1v1h-1zM315 611h1v1h-1zM316 610h1v1h-1zM317 609h2v1h-2zM319 608h1v1h-1zM320 607h1v1h-1zM321 606h2v1h-2zM323 605h1v1h-1zM324 604h1v1h-1zM325 603h2v1h-2zM327 602h1v1h-1zM328 601h1v1h-1zM329 600h2v1h-2zM331 599h1v1h-1zM332 600h1v1h-1zM333 601h1v1h-1zM334 602h1v1h-1zM335 603h1v2h-1zM336 605h1v1h-1zM337 606h1v1h-1zM338 607h1v1h-1zM339 608h1v1h-1zM340 607h1v1h-1zM341 606h1v1h-1zM342 604h1v2h-1zM343 603h1v1h-1zM344 602h1v1h-1zM345 601h1v1h-1zM346 599h1v2h-1zM347 598h1v1h-1zM348 599h1v1h-1zM349 600h1v1h-1zM350 601h2v1h-2zM352 602h1v1h-1zM353 603h1v1h-1zM354 604h1v1h-1zM355 605h2v1h-2zM357 604h4v1h-4zM361 603h8v1h-8zM369 604h10v1h-10zM379 602h1v3h-1zM380 596h1v6h-1zM381 591h1v5h-1zM382 586h1v5h-1zM383 580h1v6h-1zM384 575h1v5h-1zM385 570h1v5h-1zM386 564h1v6h-1zM387 561h1v3h-1zM388 561h1v1h-1zM389 560h4v1h-4zM393 559h3v1h-3zM396 558h1v1h-1zM397 557h1v1h-1zM398 556h1v1h-1zM399 555h1v1h-1zM400 554h2v1h-2zM402 553h1v1h-1zM403 552h1v1h-1zM404 553h1v2h-1zM405 555h1v1h-1zM406 556h1v2h-1zM407 558h1v1h-1zM408 559h1v2h-1zM409 561h1v1h-1zM410 562h1v2h-1zM411 564h1v1h-1zM412 565h1v1h-1zM413 566h1v1h-1zM414 567h1v1h-1zM415 568h1v1h-1zM416 569h1v1h-1zM417 570h1v1h-1zM418 571h1v1h-1zM419 572h4v1h-4zM423 571h5v1h-5zM428 569h1v2h-1zM429 568h1v1h-1zM430 567h1v1h-1zM431 565h1v2h-1zM432 564h1v1h-1zM433 562h1v2h-1zM434 561h1v1h-1zM435 560h1v1h-1zM436 559h1v1h-1zM437 558h1v1h-1zM438 557h2v1h-2zM440 556h1v1h-1zM441 555h2v1h-2zM443 554h1v1h-1zM444 555h1v2h-1zM445 557h1v1h-1zM446 558h1v2h-1zM447 560h1v1h-1zM448 561h1v2h-1zM449 563h1v1h-1zM450 564h1v2h-1zM451 566h2v1h-2zM453 567h1v1h-1zM454 568h1v1h-1zM455 569h1v1h-1zM456 570h2v1h-2zM458 571h1v1h-1zM459 572h1v2h-1zM460 574h1v1h-1zM461 575h1v2h-1zM462 577h1v1h-1zM463 578h1v2h-1zM464 580h1v2h-1zM465 582h1v1h-1zM466 583h1v2h-1zM467 585h4v1h-4zM471 584h5v1h-5zM476 585h2v1h-2zM478 586h1v1h-1zM479 587h2v1h-2zM481 588h1v1h-1zM482 589h1v1h-1zM483 590h1v1h-1zM484 591h1v1h-1zM485 592h1v1h-1zM486 593h1v1h-1zM487 594h1v1h-1zM488 595h1v1h-1zM489 596h1v1h-1zM490 597h1v1h-1zM491 598h1v1h-1zM492 597h1v1h-1zM493 596h1v1h-1zM494 595h1v1h-1zM495 594h2v1h-2zM497 593h1v1h-1zM498 592h1v1h-1zM499 591h2v1h-2zM501 592h2v1h-2zM503 593h2v1h-2zM505 594h2v1h-2zM507 595h2v1h-2zM509 596h3v1h-3zM512 597h2v1h-2zM514 598h2v1h-2zM516 597h3v1h-3zM519 596h2v1h-2zM521 595h2v1h-2zM523 594h1v2h-1zM524 590h1v4h-1zM525 587h1v3h-1zM526 583h1v4h-1zM527 580h1v3h-1zM528 576h1v4h-1zM529 573h1v3h-1zM530 570h1v3h-1zM531 567h1v3h-1zM532 569h1v3h-1zM533 572h1v3h-1zM534 575h1v2h-1zM535 577h1v3h-1zM536 580h1v3h-1zM537 583h1v2h-1zM538 585h1v3h-1zM539 588h1v2h-1zM540 589h1v1h-1zM541 590h3v1h-3zM544 591h2v1h-2zM546 592h2v1h-2zM548 593h1v1h-1zM549 594h2v1h-2zM551 595h1v1h-1zM552 596h1v1h-1zM553 597h1v1h-1zM554 598h1v1h-1zM555 599h1v1h-1zM556 600h1v2h-1zM557 602h1v1h-1zM558 603h1v2h-1zM559 605h1v1h-1zM560 606h1v2h-1zM561 608h1v2h-1zM562 610h1v1h-1zM563 611h1v2h-1zM564 613h1v1h-1zM565 614h1v2h-1zM566 616h1v1h-1zM567 617h1v2h-1zM568 619h1v2h-1zM569 621h1v1h-1zM570 622h1v2h-1zM571 624h1v1h-1zM572 623h2v1h-2zM574 622h2v1h-2zM576 621h2v1h-2zM578 620h3v1h-3zM581 619h4v1h-4zM585 618h4v1h-4zM589 619h3v1h-3zM592 620h2v1h-2zM594 621h11v1h-11zM605 622h2v1h-2zM607 623h2v1h-2zM609 624h2v1h-2zM611 625h1v1h-1zM612 624h1v1h-1zM613 623h2v1h-2zM615 622h1v1h-1zM616 621h2v1h-2zM618 620h1v1h-1zM619 619h4v1h-4zM623 620h9v1h-9zM632 621h5v1h-5zM637 620h5v1h-5zM642 619h3v1h-3zM645 618h3v1h-3zM648 617h2v1h-2zM650 616h2v1h-2zM652 617h2v1h-2zM654 618h1v1h-1zM655 619h1v1h-1zM656 620h2v1h-2zM658 621h1v1h-1zM659 622h4v1h-4zM663 623h5v1h-5zM668 622h2v1h-2zM670 621h2v1h-2zM672 620h1v1h-1zM673 619h2v1h-2zM675 618h2v1h-2zM677 619h3v1h-3zM680 620h2v1h-2zM682 621h3v1h-3zM685 620h2v1h-2zM687 619h3v1h-3zM690 618h13v1h-13zM703 619h5v1h-5zM708 620h1v1h-1zM709 621h1v1h-1zM710 622h1v1h-1zM711 623h2v1h-2zM713 624h1v1h-1zM714 625h1v1h-1zM715 626h1v1h-1zM716 627h2v1h-2zM718 628h2v1h-2zM720 629h2v1h-2zM722 630h3v1h-3zM725 629h3v1h-3zM728 628h2v1h-2zM730 627h13v1h-13zM743 628h5v1h-5zM748 626h1v2h-1zM749 625h1v1h-1zM750 623h1v2h-1zM751 621h1v2h-1zM752 620h1v1h-1zM753 618h1v2h-1zM754 616h1v2h-1zM755 615h2v1h-2zM757 616h2v1h-2zM759 617h2v1h-2zM761 618h2v1h-2zM763 619h1v1h-1zM764 618h3v1h-3zM767 617h3v1h-3zM770 616h3v1h-3zM773 617h2v1h-2zM775 618h2v1h-2zM777 619h2v1h-2zM779 620h10v1h-10zM789 619h4v1h-4zM793 618h3v1h-3zM796 617h2v1h-2zM798 616h1v1h-1zM799 615h2v1h-2zM801 614h2v1h-2zM803 613h1v1h-1zM804 614h1v2h-1zM805 616h1v1h-1zM806 617h1v2h-1zM807 619h1v1h-1zM808 620h1v2h-1zM809 622h1v1h-1zM810 623h1v2h-1zM811 625h1v1h-1zM812 624h1v1h-1zM813 623h1v1h-1zM814 621h1v2h-1zM815 620h1v1h-1zM816 619h1v1h-1zM817 618h1v1h-1zM818 617h1v1h-1zM819 616h1v1h-1zM820 615h1v1h-1zM821 614h1v1h-1zM822 613h1v1h-1zM823 612h1v1h-1zM824 611h1v1h-1zM825 610h1v1h-1zM826 609h1v1h-1zM827 608h5v1h-5zM832 607h6v1h-6zM838 608h4v1h-4zM842 609h2v1h-2zM844 610h2v1h-2zM846 611h2v1h-2zM848 612h1v1h-1zM849 613h2v1h-2zM851 614h1v1h-1zM852 612h1v2h-1zM853 611h1v1h-1zM854 609h1v2h-1zM855 607h1v2h-1zM856 606h1v1h-1zM857 604h1v2h-1zM858 602h1v2h-1zM859 601h2v1h-2zM861 600h4v1h-4zM865 599h3v1h-3zM868 598h3v1h-3zM871 597h3v1h-3zM874 596h3v1h-3zM877 597h4v1h-4zM881 598h4v1h-4zM885 597h2v1h-2zM887 596h2v1h-2zM889 595h2v1h-2zM891 594h2v1h-2zM893 593h4v1h-4zM897 592h4v1h-4zM901 593h2v1h-2zM903 594h2v1h-2zM905 595h2v1h-2zM907 596h3v1h-3zM910 595h6v1h-6zM916 594h2v1h-2zM918 593h2v1h-2zM920 592h2v1h-2zM922 591h2v1h-2zM924 590h1v1h-1zM925 588h1v2h-1zM926 587h1v1h-1zM927 586h1v1h-1zM928 584h1v2h-1zM929 583h1v1h-1zM930 582h1v1h-1zM931 581h4v1h-4zM935 582h4v1h-4zM939 583h2v1h-2zM941 584h2v1h-2zM943 585h2v1h-2zM945 586h2v1h-2zM947 587h2v1h-2zM949 588h1v1h-1zM950 589h2v1h-2zM952 590h2v1h-2zM954 591h1v1h-1zM955 592h2v1h-2zM957 593h2v1h-2zM959 594h1v1h-1zM960 595h2v1h-2zM962 596h1v1h-1zM963 597h1v1h-1zM964 596h2v1h-2zM966 595h1v1h-1zM967 594h2v1h-2zM969 593h2v1h-2zM971 592h1v1h-1zM972 593h2v1h-2zM974 594h2v1h-2zM976 595h1v1h-1zM977 596h2v1h-2zM979 597h1v1h-1zM980 598h1v1h-1zM981 599h1v1h-1zM982 600h1v1h-1zM983 601h1v2h-1zM984 603h1v1h-1zM985 604h1v1h-1zM986 605h1v1h-1zM987 606h1v1h-1zM988 607h1v1h-1zM989 608h1v1h-1zM990 609h2v1h-2zM992 610h1v1h-1zM993 611h1v1h-1zM994 612h1v1h-1zM995 613h1v1h-1zM996 614h2v1h-2zM998 615h1v1h-1zM999 616h1v1h-1zM1000 617h2v1h-2zM1002 618h1v1h-1zM1003 618h1v2h-1zM1004 616h1v2h-1zM1005 614h1v2h-1zM1006 611h1v3h-1zM1007 609h1v2h-1zM1008 607h1v2h-1zM1009 604h1v3h-1zM1010 602h1v2h-1zM1011 600h1v2h-1zM1012 600h1v1h-1zM1013 601h3v1h-3zM1016 602h3v1h-3zM1019 603h10v1h-10zM1029 604h1v1h-1zM1030 605h2v1h-2zM1032 606h2v1h-2zM1034 607h1v1h-1zM1035 608h4v1h-4zM1039 609h3v1h-3zM1042 610h9v1h-9zM1051 610h1v2h-1zM1052 612h1v2h-1zM1053 614h1v2h-1zM1054 616h1v1h-1zM1055 617h1v2h-1zM1056 619h1v2h-1zM1057 621h1v2h-1zM1058 623h1v2h-1zM1059 625h1v1h-1zM1060 626h2v1h-2zM1062 627h1v1h-1zM1063 628h1v1h-1zM1064 629h1v1h-1zM1065 630h2v1h-2zM1067 631h1v1h-1zM1068 632h1v1h-1zM1069 633h2v1h-2zM1071 634h1v1h-1zM1072 635h2v1h-2zM1074 636h1v1h-1zM1075 637h2v1h-2zM1077 638h3v1h-3zM1080 639h2v1h-2zM1082 640h14v1h-14zM1096 641h4v1h-4zM1100 642h2v1h-2zM1102 643h1v1h-1zM1103 644h1v1h-1zM1104 645h2v1h-2zM1106 646h1v1h-1zM1107 647h1v1h-1zM1108 645h1v2h-1zM1109 643h1v2h-1zM1110 640h1v3h-1zM1111 638h1v2h-1zM1112 636h1v2h-1zM1113 634h1v2h-1zM1114 632h1v2h-1zM1115 630h1v2h-1zM1116 630h1v1h-1zM1117 629h3v1h-3zM1120 628h2v1h-2zM1122 627h10v1h-10zM1132 626h2v1h-2zM1134 625h1v1h-1zM1135 624h1v1h-1zM1136 623h1v1h-1zM1137 622h2v1h-2zM1139 621h1v1h-1zM1140 622h2v1h-2zM1142 623h1v1h-1zM1143 624h1v1h-1zM1144 625h2v1h-2zM1146 626h1v1h-1zM1147 627h1v1h-1zM1148 628h1v2h-1zM1149 630h1v1h-1zM1150 631h1v2h-1zM1151 633h1v1h-1zM1152 634h1v2h-1zM1153 636h1v1h-1zM1154 637h1v2h-1zM1155 639h2v1h-2zM1157 638h4v1h-4zM1161 637h11v1h-11zM1172 638h1v2h-1zM1173 640h1v1h-1zM1174 641h1v1h-1zM1175 642h1v2h-1zM1176 644h1v1h-1zM1177 645h1v2h-1zM1178 647h1v1h-1zM1179 648h1v1h-1zM1180 647h2v1h-2zM1182 646h2v1h-2zM1184 645h2v1h-2zM1186 644h2v1h-2z" fill="#1e90ff"/>
</g>
<g id="axis">
<rect x="1209" y="52" width="2" height="1" fill="#000"/>
<text x="1213.4" y="56" font-size="10" fill="#000" textLength="28.4" lengthAdjust="spacingAndGlyphs" stroke="#000" stroke-width="0.15">65.380</text>
<rect x="1209" y="85" width="2" height="1" fill="#000"/>
<text x="1213.4" y="89" font-size="10" fill="#000" textLength="28.4" lengthAdjust="spacingAndGlyphs" stroke="#000" stroke-width="0.15">63.860</text>
<rect x="1209" y="118" width="2" height="1" fill="#000"/>
<text x="1213.4" y="122" font-size="10" fill="#000" textLength="28.4" lengthAdjust="spacingAndGlyphs" stroke="#000" stroke-width="0.15">62.380</text>
<rect x="1209" y="151" width="2" height="1" fill="#000"/>
<text x="1213.4" y="155" font-size="10" fill="#000" textLength="28.4" lengthAdjust="spacingAndGlyphs" stroke="#000" stroke-width="0.15">60.900</text>
<rect x="1209" y="184" width="2" height="1" fill="#000"/>
<text x="1213.4" y="188" font-size="10" fill="#000" textLength="28.4" lengthAdjust="spacingAndGlyphs" stroke="#000" stroke-width="0.15">59.380</text>
<rect x="1209" y="217" width="2" height="1" fill="#000"/>
<text x="1213.4" y="221" font-size="10" fill="#000" textLength="28.4" lengthAdjust="spacingAndGlyphs" stroke="#000" stroke-width="0.15">57.900</text>
<rect x="1209" y="250" width="2" height="1" fill="#000"/>
<text x="1213.4" y="254" font-size="10" fill="#000" textLength="28.4" lengthAdjust="spacingAndGlyphs" stroke="#000" stroke-width="0.15">56.420</text>
<rect x="1209" y="283" width="2" height="1" fill="#000"/>
<text x="1213.4" y="287" font-size="10" fill="#000" textLength="28.4" lengthAdjust="spacingAndGlyphs" stroke="#000" stroke-width="0.15">54.900</text>
<rect x="1209" y="316" width="2" height="1" fill="#000"/>
<text x="1213.4" y="320" font-size="10" fill="#000" textLength="28.4" lengthAdjust="spacingAndGlyphs" stroke="#000" stroke-width="0.15">53.420</text>
<rect x="1211" y="128" width="34" height="11" fill="#ff0000"/>
<text x="1213.4" y="137" font-size="10" fill="#fff" textLength="28.4" lengthAdjust="spacingAndGlyphs" stroke="#fff" stroke-width="0.15">61.643</text>
<rect x="1211" y="187" width="34" height="11" fill="#ff0000"/>
<text x="1213.4" y="196" font-size="10" fill="#fff" textLength="28.4" lengthAdjust="spacingAndGlyphs" stroke="#fff" stroke-width="0.15">59.000</text>
<rect x="1211" y="231" width="34" height="11" fill="#ff0000"/>
<text x="1213.4" y="240" font-size="10" fill="#fff" textLength="28.4" lengthAdjust="spacingAndGlyphs" stroke="#fff" stroke-width="0.15">57.000</text>
<rect x="1211" y="275" width="34" height="11" fill="#00ff80"/>
<text x="1213.4" y="284" font-size="10" fill="#fff" textLength="28.4" lengthAdjust="spacingAndGlyphs" stroke="#fff" stroke-width="0.15">55.000</text>
<rect x="1211" y="325" width="34" height="11" fill="#000"/>
<text x="1213.4" y="334" font-size="10" fill="#fff" textLength="28.4" lengthAdjust="spacingAndGlyphs" stroke="#fff" stroke-width="0.15">52.770</text>
<rect x="1211" y="342" width="34" height="11" fill="#3547e4"/>
<text x="1213.4" y="351" font-size="10" fill="#fff" textLength="28.4" lengthAdjust="spacingAndGlyphs" stroke="#fff" stroke-width="0.15">52.000</text>
<rect x="1209" y="356" width="2" height="1" fill="#000"/>
<text x="1212.3" y="365" font-size="10" fill="#000" textLength="26.7" lengthAdjust="spacingAndGlyphs" stroke="#000" stroke-width="0.15">0.7936</text>
<rect x="1209" y="415" width="2" height="1" fill="#000"/>
<text x="1212.3" y="419" font-size="10" fill="#000" textLength="16.7" lengthAdjust="spacingAndGlyphs" stroke="#000" stroke-width="0.15">0.00</text>
<rect x="1209" y="513" width="2" height="1" fill="#000"/>
<text x="1212" y="511" font-size="10" fill="#000" textLength="30" lengthAdjust="spacingAndGlyphs" stroke="#000" stroke-width="0.15">-1.3006</text>
<rect x="1209" y="518" width="2" height="1" fill="#000"/>
<text x="1212.8" y="527" font-size="10" fill="#000" textLength="13.5" lengthAdjust="spacingAndGlyphs" stroke="#000" stroke-width="0.15">100</text>
<rect x="1209" y="565" width="2" height="1" fill="#000"/>
<text x="1211" y="569" font-size="10" fill="#000" textLength="9.2" lengthAdjust="spacingAndGlyphs" stroke="#000" stroke-width="0.15">70</text>
<rect x="1209" y="627" width="2" height="1" fill="#000"/>
<text x="1211" y="631" font-size="10" fill="#000" textLength="9.2" lengthAdjust="spacingAndGlyphs" stroke="#000" stroke-width="0.15">30</text>
<rect x="1209" y="674" width="2" height="1" fill="#000"/>
<text x="1212" y="672" font-size="10" fill="#000" textLength="4.2" lengthAdjust="spacingAndGlyphs" stroke="#000" stroke-width="0.15">0</text>
</g>
<path d="M6 37 L13 37 L9.5 41 Z" fill="#000" shape-rendering="geometricPrecision"/>
<text y="42" font-size="10" fill="#000" stroke="#000" stroke-width="0.15"><tspan x="17.4" textLength="43.6" lengthAdjust="spacingAndGlyphs">USOil-,H4</tspan> <tspan x="66.7" textLength="28.3" lengthAdjust="spacingAndGlyphs">52.620</tspan> <tspan x="97.55" textLength="28.3" lengthAdjust="spacingAndGlyphs">52.830</tspan> <tspan x="128.4" textLength="28.3" lengthAdjust="spacingAndGlyphs">52.450</tspan> <tspan x="159.25" textLength="28.3" lengthAdjust="spacingAndGlyphs">52.770</tspan></text>
<text y="367" font-size="10" fill="#000" stroke="#000" stroke-width="0.15"><tspan x="6.2" textLength="66" lengthAdjust="spacingAndGlyphs">MACD(12,26,9)</tspan> <tspan x="76" textLength="31" lengthAdjust="spacingAndGlyphs">-1.2054</tspan> <tspan x="110" textLength="30.6" lengthAdjust="spacingAndGlyphs">-0.9305</tspan></text>
<text y="529" font-size="10" fill="#000" stroke="#000" stroke-width="0.15"><tspan x="6.2" textLength="32.5" lengthAdjust="spacingAndGlyphs">RSI(14)</tspan> <tspan x="42" textLength="32.5" lengthAdjust="spacingAndGlyphs">19.9613</tspan></text>
<text y="91.9" font-size="36" fill="#ff0000"><tspan x="807.6">多空转折点</tspan><tspan x="987.3" y="91.7" font-size="38" textLength="23" lengthAdjust="spacingAndGlyphs">5</tspan><tspan x="1009.2" y="91.7" font-size="38" textLength="23" lengthAdjust="spacingAndGlyphs">5</tspan></text>
<g id="time">
<rect x="3" y="676" width="1" height="3" fill="#000"/>
<text x="1.8" y="688" font-size="10" fill="#000" textLength="51.8" lengthAdjust="spacingAndGlyphs" stroke="#000" stroke-width="0.15">20 Dec 2019</text>
<rect x="67" y="676" width="1" height="3" fill="#000"/>
<text x="65.8" y="688" font-size="10" fill="#000" textLength="54.8" lengthAdjust="spacingAndGlyphs" stroke="#000" stroke-width="0.15">23 Dec 16:00</text>
<rect x="131" y="676" width="1" height="3" fill="#000"/>
<text x="129.8" y="688" font-size="10" fill="#000" textLength="54.8" lengthAdjust="spacingAndGlyphs" stroke="#000" stroke-width="0.15">26 Dec 00:00</text>
<rect x="195" y="676" width="1" height="3" fill="#000"/>
<text x="193.8" y="688" font-size="10" fill="#000" textLength="54.8" lengthAdjust="spacingAndGlyphs" stroke="#000" stroke-width="0.15">27 Dec 08:00</text>
<rect x="259" y="676" width="1" height="3" fill="#000"/>
<text x="257.8" y="688" font-size="10" fill="#000" textLength="54.8" lengthAdjust="spacingAndGlyphs" stroke="#000" stroke-width="0.15">30 Dec 12:00</text>
<rect x="323" y="676" width="1" height="3" fill="#000"/>
<text x="321.8" y="688" font-size="10" fill="#000" textLength="54.8" lengthAdjust="spacingAndGlyphs" stroke="#000" stroke-width="0.15">31 Dec 20:00</text>
<rect x="387" y="676" width="1" height="3" fill="#000"/>
<text x="385.8" y="688" font-size="10" fill="#000" textLength="47.2" lengthAdjust="spacingAndGlyphs" stroke="#000" stroke-width="0.15">3 Jan 00:00</text>
<rect x="451" y="676" width="1" height="3" fill="#000"/>
<text x="449.8" y="688" font-size="10" fill="#000" textLength="47.2" lengthAdjust="spacingAndGlyphs" stroke="#000" stroke-width="0.15">6 Jan 04:00</text>
<rect x="515" y="676" width="1" height="3" fill="#000"/>
<text x="513.8" y="688" font-size="10" fill="#000" textLength="47.2" lengthAdjust="spacingAndGlyphs" stroke="#000" stroke-width="0.15">7 Jan 12:00</text>
<rect x="579" y="676" width="1" height="3" fill="#000"/>
<text x="577.8" y="688" font-size="10" fill="#000" textLength="47.2" lengthAdjust="spacingAndGlyphs" stroke="#000" stroke-width="0.15">8 Jan 20:00</text>
<rect x="643" y="676" width="1" height="3" fill="#000"/>
<text x="641.8" y="688" font-size="10" fill="#000" textLength="52.2" lengthAdjust="spacingAndGlyphs" stroke="#000" stroke-width="0.15">10 Jan 04:00</text>
<rect x="707" y="676" width="1" height="3" fill="#000"/>
<text x="705.8" y="688" font-size="10" fill="#000" textLength="52.2" lengthAdjust="spacingAndGlyphs" stroke="#000" stroke-width="0.15">13 Jan 08:00</text>
<rect x="771" y="676" width="1" height="3" fill="#000"/>
<text x="769.8" y="688" font-size="10" fill="#000" textLength="52.2" lengthAdjust="spacingAndGlyphs" stroke="#000" stroke-width="0.15">14 Jan 16:00</text>
<rect x="835" y="676" width="1" height="3" fill="#000"/>
<text x="833.8" y="688" font-size="10" fill="#000" textLength="52.2" lengthAdjust="spacingAndGlyphs" stroke="#000" stroke-width="0.15">16 Jan 00:00</text>
<rect x="899" y="676" width="1" height="3" fill="#000"/>
<text x="897.8" y="688" font-size="10" fill="#000" textLength="52.2" lengthAdjust="spacingAndGlyphs" stroke="#000" stroke-width="0.15">17 Jan 08:00</text>
<rect x="963" y="676" width="1" height="3" fill="#000"/>
<text x="961.8" y="688" font-size="10" fill="#000" textLength="52.2" lengthAdjust="spacingAndGlyphs" stroke="#000" stroke-width="0.15">20 Jan 12:00</text>
<rect x="1027" y="676" width="1" height="3" fill="#000"/>
<text x="1025.8" y="688" font-size="10" fill="#000" textLength="52.2" lengthAdjust="spacingAndGlyphs" stroke="#000" stroke-width="0.15">21 Jan 20:00</text>
<rect x="1091" y="676" width="1" height="3" fill="#000"/>
<text x="1089.8" y="688" font-size="10" fill="#000" textLength="52.2" lengthAdjust="spacingAndGlyphs" stroke="#000" stroke-width="0.15">23 Jan 04:00</text>
<rect x="1155" y="676" width="1" height="3" fill="#000"/>
<text x="1153.8" y="688" font-size="10" fill="#000" textLength="52.2" lengthAdjust="spacingAndGlyphs" stroke="#000" stroke-width="0.15">24 Jan 12:00</text>
</g>
</svg></body></html>
